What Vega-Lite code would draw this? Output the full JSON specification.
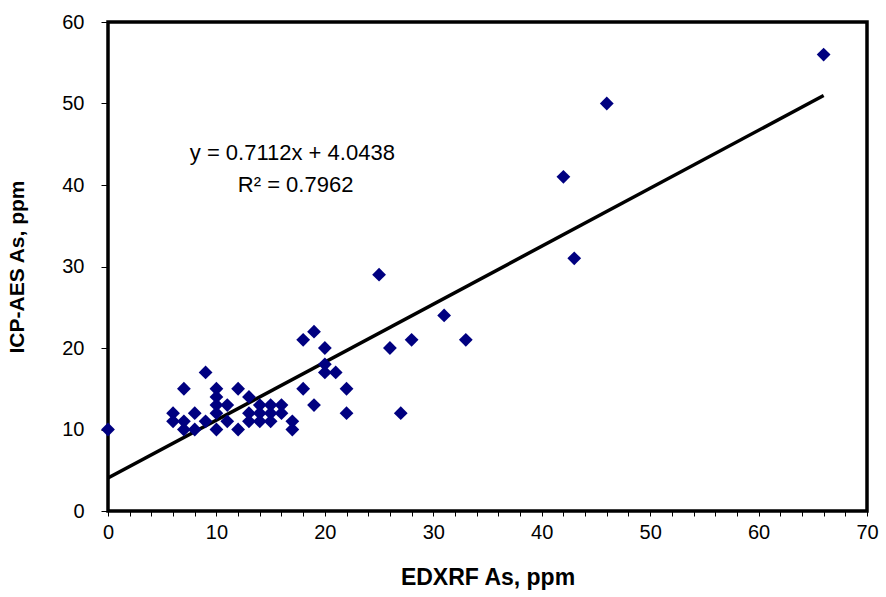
{
  "$schema": "https://vega.github.io/schema/vega-lite/v6.json",
  "width": 759,
  "height": 489,
  "autosize": "none",
  "padding": {"left": 108, "top": 22, "right": 19, "bottom": 86},
  "background": "white",
  "view": {"stroke": "black", "strokeWidth": 3.5, "fill": "white"},
  "config": {
    "font": "Liberation Sans",
    "axis": {"grid": false, "domain": false, "labelFont": "Liberation Sans", "titleFont": "Liberation Sans", "labelColor": "black", "titleColor": "black", "tickColor": "black", "tickWidth": 1, "labelOverlap": false},
    "axisX": {"labelOverlap": false},
    "axisY": {"labelOverlap": false}
  },
  "datasets": {
    "pts": [
      {"x": 0, "y": 10}, {"x": 6, "y": 12}, {"x": 6, "y": 11}, {"x": 7, "y": 15}, {"x": 7, "y": 11},
      {"x": 7, "y": 10}, {"x": 8, "y": 12}, {"x": 8, "y": 10}, {"x": 9, "y": 17}, {"x": 9, "y": 11},
      {"x": 10, "y": 15}, {"x": 10, "y": 14}, {"x": 10, "y": 13}, {"x": 10, "y": 12}, {"x": 10, "y": 10},
      {"x": 11, "y": 13}, {"x": 11, "y": 11}, {"x": 12, "y": 15}, {"x": 12, "y": 10}, {"x": 13, "y": 14},
      {"x": 13, "y": 12}, {"x": 13, "y": 11}, {"x": 14, "y": 13}, {"x": 14, "y": 12}, {"x": 14, "y": 11},
      {"x": 15, "y": 13}, {"x": 15, "y": 12}, {"x": 15, "y": 11}, {"x": 16, "y": 13}, {"x": 16, "y": 12},
      {"x": 17, "y": 11}, {"x": 17, "y": 10}, {"x": 18, "y": 21}, {"x": 18, "y": 15}, {"x": 19, "y": 22},
      {"x": 19, "y": 13}, {"x": 20, "y": 20}, {"x": 20, "y": 18}, {"x": 20, "y": 17}, {"x": 21, "y": 17},
      {"x": 22, "y": 15}, {"x": 22, "y": 12}, {"x": 25, "y": 29}, {"x": 26, "y": 20}, {"x": 27, "y": 12},
      {"x": 28, "y": 21}, {"x": 31, "y": 24}, {"x": 33, "y": 21}, {"x": 42, "y": 41}, {"x": 43, "y": 31},
      {"x": 46, "y": 50}, {"x": 66, "y": 56}
    ],
    "fit": [{"x": 0, "y": 4.0438}, {"x": 66, "y": 50.983}],
    "labels": [
      {"x": 17.0, "y": 43.9, "t": "y = 0.7112x + 4.0438"},
      {"x": 17.3, "y": 40.0, "t": "R² = 0.7962"}
    ]
  },
  "encoding": {
    "x": {"field": "x", "type": "quantitative", "scale": {"domain": [0, 70], "nice": false},
      "axis": {"title": "EDXRF As, ppm", "values": [0,2,4,6,8,10,12,14,16,18,20,22,24,26,28,30,32,34,36,38,40,42,44,46,48,50,52,54,56,58,60,62,64,66,68,70],
        "labelExpr": "datum.value % 10 === 0 ? datum.label : ''", "labelOverlap": false, "labelFontSize": 20, "tickSize": 5, "labelPadding": 6,
        "titleFontSize": 23, "titleFontWeight": "bold", "titlePadding": 24, "labelFlush": false}},
    "y": {"field": "y", "type": "quantitative", "scale": {"domain": [0, 60], "nice": false},
      "axis": {"title": "ICP-AES As, ppm", "values": [0,10,20,30,40,50,60], "labelOverlap": false, "labelFontSize": 20, "tickSize": 7, "labelPadding": 17,
        "titleFontSize": 21, "titleFontWeight": "bold", "titlePadding": 34, "labelFlush": false}}
  },
  "layer": [
    {
      "data": {"name": "fit"},
      "mark": {"type": "line", "color": "black", "strokeWidth": 3.5, "clip": true}
    },
    {
      "data": {"name": "pts"},
      "mark": {"type": "point", "shape": "diamond", "filled": true, "color": "#000080", "size": 190, "opacity": 1}
    },
    {
      "data": {"name": "labels"},
      "mark": {"type": "text", "fontSize": 22, "color": "black", "align": "center", "baseline": "middle"},
      "encoding": {
        "text": {"field": "t"}
      }
    }
  ]
}
